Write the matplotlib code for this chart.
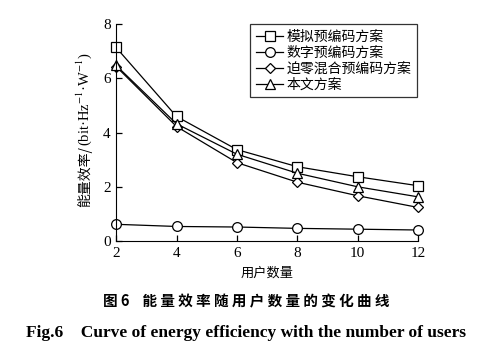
import matplotlib
matplotlib.use("Agg")
import matplotlib.pyplot as plt

plt.rcParams['font.family'] = ['Liberation Serif', 'Noto Sans CJK SC']
plt.rcParams['mathtext.fontset'] = 'stix'

users = [2, 4, 6, 8, 10, 12]
analog = [7.13, 4.59, 3.37, 2.74, 2.37, 2.04]
digital = [0.62, 0.54, 0.52, 0.47, 0.44, 0.41]
zf_hybrid = [6.43, 4.22, 2.89, 2.17, 1.67, 1.24]
proposed = [6.47, 4.32, 3.20, 2.50, 2.00, 1.63]
labels = ["模拟预编码方案", "数字预编码方案", "迫零混合预编码方案", "本文方案"]
markers = ["s", "o", "D", "^"]

fig = plt.figure(figsize=(4.92, 3.51), dpi=100)
ax = fig.add_axes([0.236, 0.313, 0.614, 0.619])

for vals, lab, mk in zip([analog, digital, zf_hybrid, proposed], labels, markers):
  ms = 5 if mk == "D" else 7
  ax.plot(users, vals, color="k", lw=0.9, marker=mk, ms=ms,
          mfc="white", mec="k", mew=0.9, label=lab, clip_on=False)

ax.set_xlim(2, 12)
ax.set_ylim(0, 8)
ax.set_xticks(users)
ax.set_yticks([0, 2, 4, 6, 8])
ax.spines["top"].set_visible(False)
ax.spines["right"].set_visible(False)
ax.tick_params(direction="in", length=4, width=0.9, labelsize=11, pad=4)

ax.set_xlabel("用户数量", family=['Noto Sans CJK SC'], fontsize=9.5, labelpad=5)

# y label: CJK part and unit part drawn separately (mathtext has no CJK fallback)
fig.text(0.172, 0.585, "能量效率/", rotation=90, ha="center", va="top",
         family=['Noto Sans CJK SC'], fontsize=10)
fig.text(0.172, 0.585, "(bit·Hz$^{-1}$·W$^{-1}$)", rotation=90, ha="center", va="bottom",
         family=['Liberation Serif'], fontsize=10.5)

leg = ax.legend(loc="upper right", bbox_to_anchor=(0.995, 1.0), prop={'family': 'Noto Sans CJK SC', 'size': 10},
                frameon=True, fancybox=False, edgecolor="k", handlelength=2.0,
                handletextpad=0.2, borderpad=0.4, labelspacing=0.15, borderaxespad=0)
leg.get_frame().set_linewidth(0.9)

fig.text(0.5, 0.14, "图 6    能 量 效 率 随 用 户 数 量 的 变 化 曲 线", ha="center", va="center",
         family=['Noto Sans CJK SC'], fontsize=10.5, fontweight="bold")
fig.text(0.5, 0.05, "Fig.6    Curve of energy efficiency with the number of users", ha="center",
         va="center", family=['Liberation Serif'], fontsize=12.5, fontweight="bold")

fig.savefig("out.png", dpi=100)
